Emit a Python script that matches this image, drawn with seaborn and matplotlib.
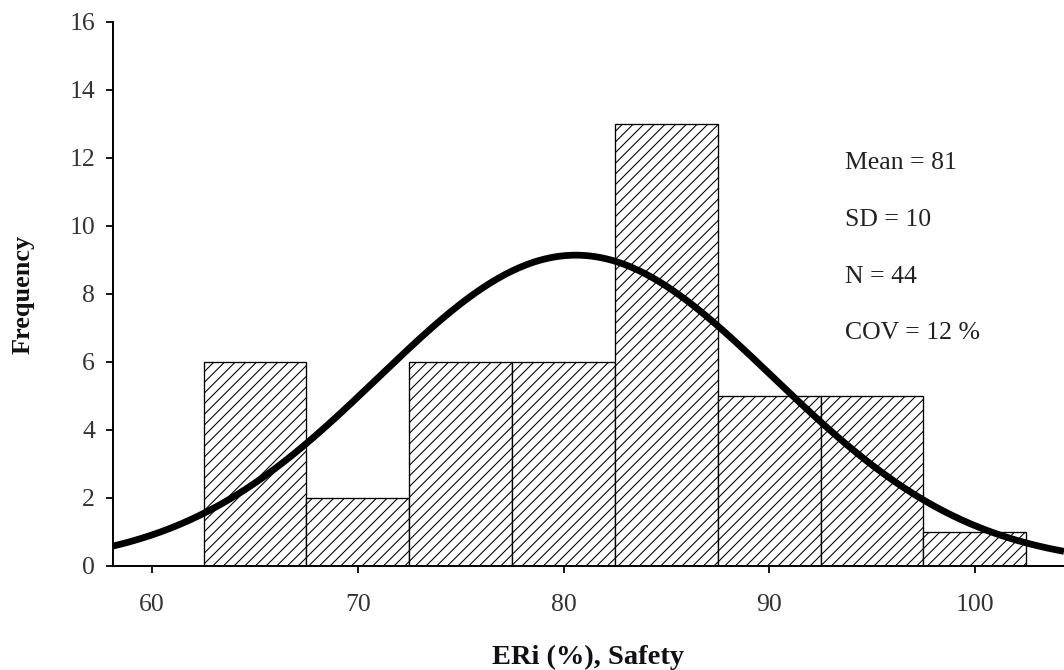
import numpy as np
import pandas as pd
import matplotlib
matplotlib.use("Agg")
import matplotlib.pyplot as plt
import seaborn as sns

# Histogram of ERi (%) for the safety criterion
bin_edges = [62.5, 67.5, 72.5, 77.5, 82.5, 87.5, 92.5, 97.5, 102.5]
bin_centers = [65, 70, 75, 80, 85, 90, 95, 100]
frequencies = [6, 2, 6, 6, 13, 5, 5, 1]

# Fitted normal distribution
fit_mean = 80.6
fit_sd = 9.6
n_obs = sum(frequencies)
bin_width = 5.0

x_ticks = [60, 70, 80, 90, 100]
y_ticks = [0, 2, 4, 6, 8, 10, 12, 14, 16]
x_limits = (58.1, 104.33)

DPI = 128
sns.set_theme(style="ticks")
plt.rcParams["font.family"] = ["Liberation Serif", "DejaVu Serif"]
plt.rcParams["hatch.linewidth"] = 0.6
plt.rcParams["hatch.color"] = "black"

fig = plt.figure(figsize=(1064 / DPI, 670 / DPI), dpi=DPI)
ax = fig.add_axes([113 / 1064, 1 - 566 / 670, 1 - 113 / 1064, (566 - 22) / 670])

hist_df = pd.DataFrame({"value": bin_centers, "count": frequencies})
sns.histplot(data=hist_df, x="value", weights="count", bins=bin_edges,
             stat="count", ax=ax, color="white", edgecolor="black",
             linewidth=0.75, alpha=1.0)
for patch in ax.patches:
    patch.set_hatch("////")
    patch.set_facecolor("white")
    patch.set_edgecolor("black")

xs = np.linspace(x_limits[0], x_limits[1], 400)
density = np.exp(-0.5 * ((xs - fit_mean) / fit_sd) ** 2) / (fit_sd * np.sqrt(2 * np.pi))
curve_df = pd.DataFrame({"x": xs, "y": density * n_obs * bin_width})
sns.lineplot(data=curve_df, x="x", y="y", ax=ax, color="black", linewidth=3.8,
             solid_capstyle="butt", clip_on=True)

ax.set_xlim(*x_limits)
ax.set_ylim(0, 16)
ax.set_xticks(x_ticks)
ax.set_yticks(y_ticks)
ax.tick_params(axis="both", labelsize=14.5, labelcolor="#333333", color="black",
               length=4, width=1.0, direction="out")
ax.tick_params(axis="x", pad=12)
ax.tick_params(axis="y", pad=6)
for side in ("top", "right"):
    ax.spines[side].set_visible(False)
for side in ("left", "bottom"):
    ax.spines[side].set_linewidth(1.1)
    ax.spines[side].set_color("black")

ax.set_xlabel("ERi (%), Safety", fontsize=16, fontweight="bold", color="#111111",
              va="center")
ax.xaxis.set_label_coords(0.5, -(657 - 566) / 544)
ax.set_ylabel("Frequency", fontsize=14.8, fontweight="bold", color="#111111",
              va="center")
ax.yaxis.set_label_coords(-(113 - 23) / 951, 0.5)

stats_lines = [
    f"Mean = {fit_mean:.0f}",
    f"SD = {fit_sd:.0f}",
    f"N = {n_obs}",
    f"COV = {fit_sd / fit_mean * 100:.0f} %",
]
for i, line in enumerate(stats_lines):
    ax.text(0.770, 0.741 - i * 0.1045, line, transform=ax.transAxes,
            fontsize=14.5, color="#222222", va="center", ha="left")

fig.savefig("out.png", dpi=DPI, facecolor="white")
